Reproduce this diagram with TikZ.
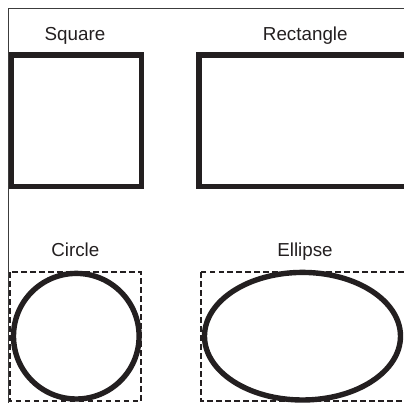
\documentclass[tikz,border=0pt]{standalone}
\usepackage{fontspec}
\setmainfont{Liberation Sans}

\definecolor{shapecolor}{RGB}{35, 31, 32}
\definecolor{framecolor}{RGB}{60, 60, 60}

\begin{document}
\begin{tikzpicture}[x=0.5pt, y=-0.5pt,
    shapeline/.style={line width=2.7pt, shapecolor},
    boundbox/.style={line width=1.2pt, shapecolor, dash pattern=on 2.8pt off 1.7pt},
    caption/.style={anchor=base, font=\fontsize{9.4pt}{11pt}\selectfont, text=shapecolor, inner sep=0pt}]

    \useasboundingbox (0,0) rectangle (404,403);
    \clip (0,0) rectangle (404,403);

    % ==========================================
    % --- Frame ---
    % ==========================================
    \draw[framecolor, line width=0.6pt] (8.5,420) -- (8.5,8.5) -- (420,8.5);

    % ==========================================
    % --- Top row: Square and Rectangle ---
    % ==========================================
    \node[caption] (squarelabel) at (75, 40.7) {Square};
    \node[caption] (rectlabel) at (305.3, 40.7) {Rectangle};

    \draw[shapeline] (11.5, 54.8) rectangle (141.8, 186.5);
    \draw[shapeline] (199.2, 54.8) rectangle (412, 186.5);

    % ==========================================
    % --- Bottom row: Circle and Ellipse ---
    % with dashed bounding boxes
    % ==========================================
    \node[caption] (circlelabel) at (75.3, 256.7) {Circle};
    \node[caption] (ellipselabel) at (305, 256.7) {Ellipse};

    \draw[boundbox] (10, 272) rectangle (141.3, 401.2);
    \draw[shapeline] (76.3, 336.2) circle [radius=62.8];

    \draw[boundbox] (201.3, 272) rectangle (412, 401.2);
    \draw[shapeline] (302.5, 336.2) ellipse [x radius=98, y radius=63.8];

\end{tikzpicture}
\end{document}
